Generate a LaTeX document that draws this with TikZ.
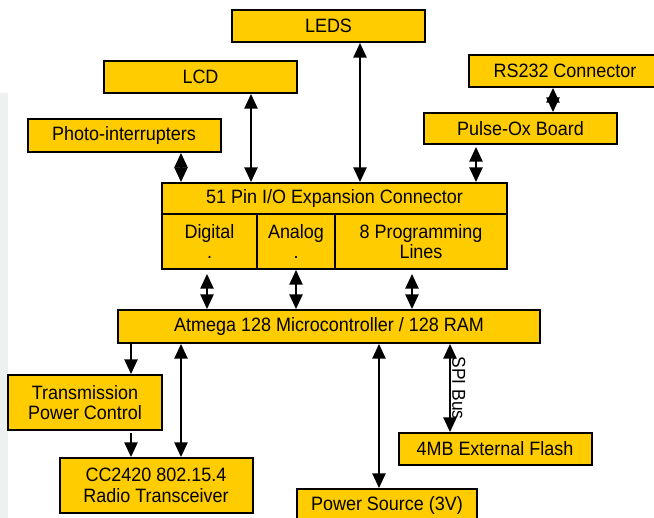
\documentclass[tikz,border=0pt]{standalone}
\usepackage{fontspec}
\setmainfont{Liberation Sans}[FakeStretch=0.93]
\usetikzlibrary{arrows.meta}
\definecolor{boxyellow}{HTML}{FFCC00}
\definecolor{sidegray}{HTML}{EDF1EF}

\begin{document}
\begin{tikzpicture}[x=0.75pt,y=-0.75pt,
    blk/.style={draw,line width=1.5pt,fill=boxyellow,inner sep=0pt,align=center,
        minimum width=144.75pt,minimum height=24pt,
        font=\fontsize{14.5}{15.5}\selectfont},
    tall/.style={minimum height=41.25pt},
    link/.style={line width=1.1pt,{Triangle[length=11pt,width=10pt]}-{Triangle[length=11pt,width=10pt]}},
    oneway/.style={line width=1.1pt,-{Triangle[length=11pt,width=10pt]}}]
    \useasboundingbox (0,0) rectangle (654,518);
    \fill[sidegray] (0,93) rectangle (8,518);

    % peripherals on top
    \node[blk] (leds) at (328.5,26) {LEDS};
    \node[blk] (lcd) at (200.5,77) {LCD};
    \node[blk,minimum height=24.75pt] (photo) at (124,135.5) {Photo-interrupters};
    \node[blk] (rs) at (565,71) {RS232 Connector};
    \node[blk,minimum height=23.25pt] (pulse) at (520.5,128.5) {Pulse-Ox Board};

    % expansion connector
    \node[blk,minimum width=258.75pt,minimum height=23.25pt] (exp) at (334.5,198.5) {51 Pin I/O Expansion Connector};
    \node[blk,tall,minimum width=71.25pt] (dig) at (209.5,241.5) {Digital\\.};
    \node[blk,tall,minimum width=58.5pt] (ana) at (296,241.5) {Analog\\.};
    \node[blk,tall,minimum width=129pt] (prog) at (421,241.5) {8 Programming\\Lines};

    % controller and the rest
    \node[blk,minimum width=316.5pt,minimum height=24.75pt] (mcu) at (329,326.5) {Atmega 128 Microcontroller / 128 RAM};
    \node[blk,tall,minimum width=115.5pt] (tx) at (85,402.5) {Transmission\\Power Control};
    \node[blk,tall] (radio) at (156,485.5) {CC2420 802.15.4\\Radio Transceiver};
    \node[blk] (flash) at (495,449) {4MB External Flash};
    \node[blk,minimum width=135pt] (power) at (387,505) {Power Source (3V)};

    \coordinate (xphoto) at (181,0);
    \coordinate (xlcd) at (251,0);
    \coordinate (xleds) at (360,0);
    \coordinate (xpulse) at (476,0);
    \coordinate (xrs) at (553,0);
    \coordinate (xdig) at (207,0);
    \coordinate (xana) at (296,0);
    \coordinate (xprog) at (412,0);
    \coordinate (xtx) at (131,0);
    \coordinate (xradio) at (181,0);
    \coordinate (xpower) at (379,0);
    \coordinate (xflash) at (450,0);

    \draw[link] (xphoto |- photo.south) -- (xphoto |- exp.north);
    \draw[link] (xlcd |- lcd.south) -- (xlcd |- exp.north);
    \draw[link] (xleds |- leds.south) -- (xleds |- exp.north);
    \draw[link,shorten <=1.5pt] (xpulse |- pulse.south) -- (xpulse |- exp.north);
    \draw[link] (xrs |- rs.south) -- (xrs |- pulse.north);

    \draw[link,shorten <=3pt] (xdig |- dig.south) -- (xdig |- mcu.north);
    \draw[link] (xana |- ana.south) -- (xana |- mcu.north);
    \draw[link,shorten <=3pt] (xprog |- prog.south) -- (xprog |- mcu.north);

    \draw[oneway] (xtx |- mcu.south) -- (xtx |- tx.north);
    \draw[oneway,shorten <=1.5pt] (xtx |- tx.south) -- (xtx |- radio.north);
    \draw[link] (xradio |- mcu.south) -- (xradio |- radio.north);
    \draw[link] (xpower |- mcu.south) -- (xpower |- power.north);
    \draw[link] (xflash |- mcu.south) -- node[midway,rotate=-90,anchor=south,inner sep=1pt,
        font=\fontsize{14}{15.5}\selectfont] (spi) {SPI Bus} (xflash |- flash.north);
\end{tikzpicture}
\end{document}
